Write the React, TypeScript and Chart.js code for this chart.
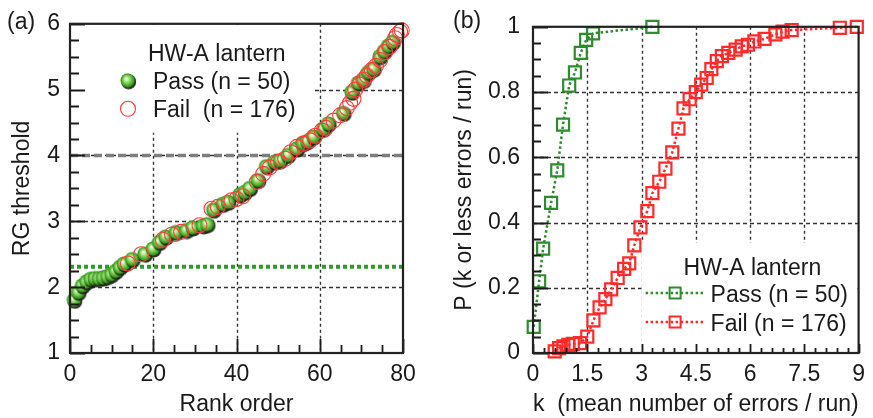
import React, { useEffect, useRef } from 'react';
import { Chart, registerables } from 'chart.js';

Chart.register(...registerables);

const FONT_FAMILY = '"Liberation Sans", Arial, Helvetica, sans-serif';
const FONT_SIZE = 23;
const INK = '#1a1a1a';
const GRID = '#333333';
const GREEN = '#2e8b2e';
const RED = '#ff2a2a';

// ---------------- Panel (a): RG threshold vs rank order ----------------
const passRank = [1, 2, 3, 4, 5, 6, 7, 8, 9, 10, 11, 12, 13, 15, 18, 20, 21.5, 23, 25.5, 28,
  29.5, 32, 33, 34.5, 36.8, 38, 40.8, 42, 43.2, 45.2, 47.2, 49.2, 50.5, 52.4, 54.5, 56, 57, 58.5, 60.9, 62.1,
  65.7, 67.7, 69.3, 70.5, 71.7, 72.9, 74.5, 75.5, 76.5, 77.5];
const passThreshold = [1.80, 1.92, 2.02, 2.08, 2.12, 2.13, 2.13, 2.14, 2.16, 2.19, 2.24, 2.30, 2.35, 2.42, 2.50, 2.58, 2.68, 2.76, 2.83, 2.86,
  2.90, 2.93, 2.95, 3.17, 3.26, 3.29, 3.40, 3.44, 3.50, 3.62, 3.83, 3.90, 3.92, 4.00, 4.10, 4.18, 4.21, 4.28, 4.40, 4.48,
  4.64, 4.96, 5.10, 5.14, 5.26, 5.31, 5.50, 5.58, 5.66, 5.72];
const failRank = [13.9, 17.1, 22.3, 24.5, 26.7, 31.1, 34.0, 35.5, 38.8, 40, 41.5, 44.9, 46.4, 48, 50, 51.7, 53, 54.5, 56, 57.7,
  58.9, 60.5, 61.5, 63.3, 64.9, 66.5, 67.3, 68.1, 68.5, 69.5, 70.5, 71.3, 72.5, 73.5, 74.5, 75.7, 76.8, 78.1, 78.5, 79.3, 79.7];
const failThreshold = [2.36, 2.50, 2.72, 2.80, 2.84, 2.94, 3.19, 3.22, 3.32, 3.34, 3.38, 3.60, 3.72, 3.82, 3.90, 3.95, 4.05, 4.13, 4.18, 4.23,
  4.30, 4.38, 4.42, 4.53, 4.61, 4.72, 4.80, 4.86, 5.00, 5.08, 5.15, 5.21, 5.30, 5.36, 5.45, 5.57, 5.65, 5.78, 5.83, 5.88, 5.90];
const passCriterion = 2.31;
const failCriterion = 4;
const rankRange = [0, 80];
const thresholdRange = [1, 6];
const rankGridValues = [20, 40, 60];
const thresholdGridValues = [2, 3, 4, 5];

// ---------------- Panel (b): cumulative probability vs k ----------------
const passK = [0.02, 0.17, 0.28, 0.5, 0.67, 0.83, 1.0, 1.16, 1.32, 1.47, 1.66, 3.3];
const passP = [0.08, 0.22, 0.32, 0.46, 0.56, 0.70, 0.82, 0.86, 0.92, 0.96, 0.98, 1.0];
const failK = [0.6, 0.72, 0.84, 0.98, 1.1, 1.3, 1.5, 1.67, 1.84, 2.0, 2.16, 2.34, 2.52, 2.66, 2.8, 2.97, 3.16, 3.3, 3.49, 3.66,
  3.85, 4.02, 4.16, 4.33, 4.5, 4.65, 4.8, 4.93, 5.08, 5.22, 5.4, 5.6, 5.77, 5.94, 6.12, 6.4, 6.7, 6.9, 7.15, 8.48, 8.95];
const failP = [0.005, 0.015, 0.02, 0.025, 0.028, 0.03, 0.05, 0.10, 0.14, 0.165, 0.195, 0.23, 0.258, 0.275, 0.33, 0.385, 0.435, 0.49, 0.525, 0.565,
  0.615, 0.688, 0.75, 0.778, 0.80, 0.823, 0.843, 0.87, 0.895, 0.91, 0.92, 0.93, 0.94, 0.945, 0.955, 0.963, 0.977, 0.985, 0.99, 0.997, 1.0];
const kRange = [0, 9];
const pRange = [0, 1];
const kGridValues = [1.5, 3, 4.5, 6, 7.5];
const pGridValues = [0.2, 0.4, 0.6, 0.8];

const font = () => `${FONT_SIZE}px ${FONT_FAMILY}`;

function makeSphere(): HTMLCanvasElement {
  const c = document.createElement('canvas');
  c.width = 18;
  c.height = 18;
  const g = c.getContext('2d')!;
  g.beginPath();
  g.arc(9.7, 9.9, 7.5, 0, Math.PI * 2);
  g.fillStyle = 'rgba(28,34,22,0.92)';
  g.fill();
  const grad = g.createRadialGradient(7.2, 6.8, 0.5, 8.6, 8.6, 7.3);
  grad.addColorStop(0, '#f6fff0');
  grad.addColorStop(0.3, '#a8e482');
  grad.addColorStop(0.72, '#4db22b');
  grad.addColorStop(1, '#2d7d15');
  g.beginPath();
  g.arc(8.6, 8.6, 7.1, 0, Math.PI * 2);
  g.fillStyle = grad;
  g.fill();
  return c;
}

function drawGrid(chart: any, xs: number[], ys: number[]) {
  const { ctx, chartArea: ca, scales } = chart;
  ctx.save();
  ctx.strokeStyle = GRID;
  ctx.lineWidth = 1.4;
  ctx.setLineDash([3, 3]);
  ctx.beginPath();
  for (const v of xs) {
    const px = Math.round(scales.x.getPixelForValue(v)) + 0.5;
    ctx.moveTo(px, ca.top);
    ctx.lineTo(px, ca.bottom);
  }
  ctx.stroke();
  ctx.setLineDash([4, 3]);
  ctx.beginPath();
  for (const v of ys) {
    const py = Math.round(scales.y.getPixelForValue(v)) + 0.5;
    ctx.moveTo(ca.left, py);
    ctx.lineTo(ca.right, py);
  }
  ctx.stroke();
  ctx.restore();
}

function drawFrame(chart: any, xMinor: number, xMajor: number, xMinLen: number, xMajLen: number,
  yMinor: number, yMajor: number, yMinLen: number, yMajLen: number) {
  const { ctx, chartArea: ca, scales } = chart;
  const x = scales.x;
  const y = scales.y;
  ctx.save();
  ctx.setLineDash([]);
  ctx.strokeStyle = INK;
  ctx.lineWidth = 1.8;
  ctx.beginPath();
  const nx = Math.round((x.max - x.min) / xMinor);
  for (let i = 0; i <= nx; i++) {
    const v = x.min + i * xMinor;
    const r = v / xMajor;
    const major = Math.abs(r - Math.round(r)) < 1e-6;
    const px = Math.round(x.getPixelForValue(v)) + 0.5;
    ctx.moveTo(px, ca.bottom);
    ctx.lineTo(px, ca.bottom - (major ? xMajLen : xMinLen));
  }
  const ny = Math.round((y.max - y.min) / yMinor);
  for (let i = 0; i <= ny; i++) {
    const v = y.min + i * yMinor;
    const r = v / yMajor;
    const major = Math.abs(r - Math.round(r)) < 1e-6;
    const py = Math.round(y.getPixelForValue(v)) + 0.5;
    ctx.moveTo(ca.left, py);
    ctx.lineTo(ca.left + (major ? yMajLen : yMinLen), py);
  }
  ctx.stroke();
  ctx.lineWidth = 2.2;
  ctx.strokeStyle = '#222';
  ctx.strokeRect(ca.left, ca.top, ca.right - ca.left, ca.bottom - ca.top);
  ctx.restore();
}

function axisScale(min: number, max: number, step: number, pad: number, title: string, titlePad: any, fit: (s: any) => void) {
  return {
    type: 'linear' as const,
    min,
    max,
    ticks: {
      stepSize: step,
      padding: pad,
      color: INK,
      font: { family: FONT_FAMILY, size: FONT_SIZE },
      callback: (v: any) => String(Math.round(Number(v) * 100) / 100),
    },
    grid: { display: false, drawTicks: false },
    border: { display: false },
    title: { display: true, text: title, color: INK, font: { family: FONT_FAMILY, size: FONT_SIZE }, padding: titlePad },
    afterFit: fit,
  };
}

export default function App() {
  const refA = useRef<HTMLCanvasElement>(null);
  const refB = useRef<HTMLCanvasElement>(null);

  useEffect(() => {
    const sphere = makeSphere();

    const pluginA = {
      id: 'panelA',
      beforeDatasetsDraw(chart: any) {
        drawGrid(chart, rankGridValues, thresholdGridValues);
        const { ctx, chartArea: ca } = chart;
        ctx.save();
        ctx.fillStyle = '#ffffff';
        ctx.fillRect(ca.left + 1, ca.top + 1, 241, 108);
        ctx.restore();
      },
      afterDatasetsDraw(chart: any) {
        drawFrame(chart, 5, 20, 8, 14, 0.25, 1, 9, 15);
        const { ctx, chartArea: ca } = chart;
        ctx.save();
        ctx.font = font();
        ctx.fillStyle = INK;
        ctx.textAlign = 'left';
        ctx.textBaseline = 'alphabetic';
        ctx.fillText('(a)', 7, 29);
        ctx.fillText('HW-A lantern', ca.left + 78, ca.top + 37);
        ctx.drawImage(sphere, ca.left + 58 - 9, ca.top + 57 - 9);
        ctx.fillText('Pass (n = 50)', ca.left + 83, ca.top + 65);
        ctx.beginPath();
        ctx.arc(ca.left + 58, ca.top + 85, 7.5, 0, Math.PI * 2);
        ctx.strokeStyle = '#ff3b3b';
        ctx.lineWidth = 1.1;
        ctx.stroke();
        ctx.fillText('Fail  (n = 176)', ca.left + 83, ca.top + 93);
        ctx.restore();
      },
    };

    const pluginB = {
      id: 'panelB',
      beforeDatasetsDraw(chart: any) {
        drawGrid(chart, kGridValues, pGridValues);
        const { ctx, chartArea: ca } = chart;
        ctx.save();
        ctx.fillStyle = '#ffffff';
        ctx.fillRect(ca.right - 217, ca.bottom - 110, 216, 109);
        ctx.restore();
      },
      afterDatasetsDraw(chart: any) {
        drawFrame(chart, 0.3, 1.5, 5, 9, 0.05, 0.2, 8, 15);
        const { ctx, chartArea: ca } = chart;
        ctx.save();
        ctx.font = font();
        ctx.fillStyle = INK;
        ctx.textAlign = 'left';
        ctx.textBaseline = 'alphabetic';
        ctx.fillText('(b)', 17, 28);
        ctx.fillText('HW-A lantern', ca.right - 175, ca.bottom - 78);
        const rows = [
          { color: GREEN, text: 'Pass (n = 50)', y: ca.bottom - 60 },
          { color: RED, text: 'Fail (n = 176)', y: ca.bottom - 31 },
        ];
        for (const row of rows) {
          ctx.strokeStyle = row.color;
          ctx.lineWidth = 2.5;
          ctx.setLineDash([2.5, 2.5]);
          ctx.beginPath();
          ctx.moveTo(ca.right - 213, row.y);
          ctx.lineTo(ca.right - 155, row.y);
          ctx.stroke();
          ctx.setLineDash([]);
          ctx.lineWidth = 2;
          ctx.strokeRect(ca.right - 189, row.y - 5.5, 11, 11);
          ctx.fillStyle = INK;
          ctx.fillText(row.text, ca.right - 148, row.y + 8.5);
        }
        ctx.restore();
      },
    };

    const chartA = new Chart(refA.current!, {
      type: 'scatter',
      data: {
        datasets: [
          {
            label: 'Fail (n = 176)',
            data: failRank.map((r, i) => ({ x: r, y: failThreshold[i] })),
            pointStyle: 'circle',
            pointRadius: 7.5,
            borderColor: '#ff3b3b',
            borderWidth: 1.1,
            backgroundColor: 'rgba(0,0,0,0)',
            clip: false,
          } as any,
          {
            label: 'Pass (n = 50)',
            data: passRank.map((r, i) => ({ x: r, y: passThreshold[i] })),
            pointStyle: sphere,
            pointRadius: 8,
            borderWidth: 0,
            clip: false,
          } as any,
          {
            label: 'fail criterion',
            data: [{ x: rankRange[0], y: failCriterion }, { x: rankRange[1], y: failCriterion }],
            showLine: true,
            borderColor: '#7e7e7e',
            borderWidth: 3.5,
            borderDash: [8, 4],
            pointRadius: 0,
          } as any,
          {
            label: 'pass criterion',
            data: [{ x: rankRange[0], y: passCriterion }, { x: rankRange[1], y: passCriterion }],
            showLine: true,
            borderColor: '#2e9a2e',
            borderWidth: 4,
            borderDash: [4, 3],
            pointRadius: 0,
          } as any,
        ],
      },
      options: {
        responsive: false,
        animation: false,
        events: [],
        layout: { padding: { left: 0, top: 23, right: 33, bottom: 0 } },
        plugins: { legend: { display: false }, tooltip: { enabled: false } },
        scales: {
          x: axisScale(rankRange[0], rankRange[1], 20, 8, 'Rank order', { top: 0, bottom: 0 }, (s: any) => { s.height = 65; }),
          y: axisScale(thresholdRange[0], thresholdRange[1], 1, 10, 'RG threshold', { top: 9, bottom: 0 }, (s: any) => { s.width = 70; }),
        } as any,
      },
      plugins: [pluginA],
    });

    const chartB = new Chart(refB.current!, {
      type: 'scatter',
      data: {
        datasets: [
          {
            label: 'Pass (n = 50)',
            data: passK.map((k, i) => ({ x: k, y: passP[i] })),
            showLine: true,
            borderColor: GREEN,
            borderWidth: 2.5,
            borderDash: [2.5, 2.5],
            pointStyle: 'rect',
            pointRadius: 8.5,
            pointBorderWidth: 2.2,
            pointBorderColor: GREEN,
            pointBackgroundColor: 'rgba(0,0,0,0)',
            clip: false,
          } as any,
          {
            label: 'Fail (n = 176)',
            data: failK.map((k, i) => ({ x: k, y: failP[i] })),
            showLine: true,
            borderColor: RED,
            borderWidth: 2.5,
            borderDash: [2.5, 2.5],
            pointStyle: 'rect',
            pointRadius: 8.5,
            pointBorderWidth: 2.2,
            pointBorderColor: RED,
            pointBackgroundColor: 'rgba(0,0,0,0)',
            clip: false,
          } as any,
        ],
      },
      options: {
        responsive: false,
        animation: false,
        events: [],
        layout: { padding: { left: 0, top: 23, right: 8, bottom: 0 } },
        plugins: { legend: { display: false }, tooltip: { enabled: false } },
        scales: {
          x: axisScale(kRange[0], kRange[1], 1.5, 8, 'k  (mean number of errors / run)', { top: 0, bottom: 0 }, (s: any) => { s.height = 65; }),
          y: axisScale(pRange[0], pRange[1], 0.2, 13, 'P (k or less errors / run)', { top: 15, bottom: 0 }, (s: any) => { s.width = 97; }),
        } as any,
      },
      plugins: [pluginB],
    });

    return () => {
      chartA.destroy();
      chartB.destroy();
    };
  }, []);

  return (
    <div style={{ position: 'absolute', left: 0, top: 0, width: 873, height: 418, background: '#fff', overflow: 'hidden' }}>
      <canvas ref={refA} width={436} height={418} style={{ position: 'absolute', left: 0, top: 0, width: 436, height: 418 }} />
      <canvas ref={refB} width={437} height={418} style={{ position: 'absolute', left: 436, top: 0, width: 437, height: 418 }} />
    </div>
  );
}
